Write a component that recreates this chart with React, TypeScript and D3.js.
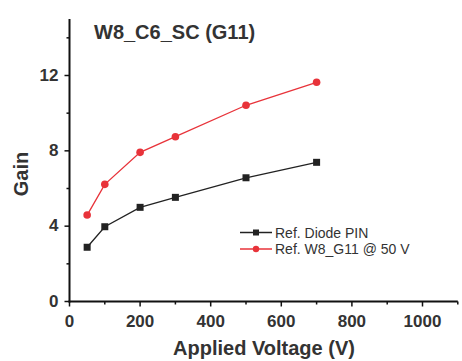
import React from "react";
import * as d3 from "d3";

const voltages = [50, 100, 200, 300, 500, 700];
const diodePIN = [2.88, 3.97, 5.0, 5.53, 6.57, 7.39];
const w8G11 = [4.59, 6.22, 7.92, 8.75, 10.42, 11.64];
const xMajorTicks = [0, 200, 400, 600, 800, 1000];
const xMinorTicks = [100, 300, 500, 700, 900, 1100];
const yMajorTicks = [0, 4, 8, 12];
const yMinorTicks = [2, 6, 10, 14];
const seriesNames = ["Ref. Diode PIN", "Ref. W8_G11 @ 50 V"];
const title = "W8_C6_SC (G11)";

export default function App() {
  const W = 462, H = 361;
  const x = d3.scaleLinear().domain([0, 1000]).range([69.5, 422.5]);
  const y = d3.scaleLinear().domain([0, 15]).range([301.5, 19]);
  const line = d3.line<[number, number]>().x(d => x(d[0])).y(d => y(d[1]));
  const font = "'Liberation Sans', Arial, sans-serif";
  const blackPts: [number, number][] = voltages.map((v, i) => [v, diodePIN[i]]);
  const redPts: [number, number][] = voltages.map((v, i) => [v, w8G11[i]]);
  const black = "#222";
  const red = "#e8333a";
  const txt = "#333";
  return (
    <svg width={W} height={H} style={{ position: "absolute", left: 0, top: 0, background: "#fff" }}>
      {/* axes */}
      <line x1={x(0) - 1} x2={x(1100)} y1={y(0)} y2={y(0)} stroke="#111" strokeWidth={2} />
      <line x1={x(0)} x2={x(0)} y1={y(0) + 1} y2={y(15)} stroke="#111" strokeWidth={2} />
      {xMajorTicks.map(t => (
        <g key={"xm" + t}>
          <line x1={x(t)} x2={x(t)} y1={y(0)} y2={y(0) + 5} stroke="#111" strokeWidth={1.5} />
          <text x={x(t)} y={y(0) + 25} textAnchor="middle" fontFamily={font} fontWeight="bold" fontSize={17} fill={txt}>{t}</text>
        </g>
      ))}
      {xMinorTicks.map(t => (
        <line key={"xn" + t} x1={x(t)} x2={x(t)} y1={y(0)} y2={y(0) + 3} stroke="#111" strokeWidth={1.5} />
      ))}
      {yMajorTicks.map(t => (
        <g key={"ym" + t}>
          <line x1={x(0) - 5} x2={x(0)} y1={y(t)} y2={y(t)} stroke="#111" strokeWidth={1.5} />
          <text x={x(0) - 11} y={y(t) + 5} textAnchor="end" fontFamily={font} fontWeight="bold" fontSize={17} fill={txt}>{t}</text>
        </g>
      ))}
      {yMinorTicks.map(t => (
        <line key={"yn" + t} x1={x(0) - 3} x2={x(0)} y1={y(t)} y2={y(t)} stroke="#111" strokeWidth={1.5} />
      ))}
      <text x={264} y={355} textAnchor="middle" fontFamily={font} fontWeight="bold" fontSize={20} fill={txt}>Applied Voltage (V)</text>
      <text transform="translate(28,174) rotate(-90)" textAnchor="middle" fontFamily={font} fontWeight="bold" fontSize={20} fill={txt}>Gain</text>
      <text x={94} y={39} fontFamily={font} fontWeight="bold" fontSize={20} fill={txt}>{title}</text>
      {/* series */}
      <path d={line(blackPts) || ""} fill="none" stroke={black} strokeWidth={1.3} />
      {blackPts.map((p, i) => (
        <rect key={"b" + i} x={x(p[0]) - 3.5} y={y(p[1]) - 3.5} width={7} height={7} fill={black} />
      ))}
      <path d={line(redPts) || ""} fill="none" stroke={red} strokeWidth={1.3} />
      {redPts.map((p, i) => (
        <circle key={"r" + i} cx={x(p[0])} cy={y(p[1])} r={3.8} fill={red} />
      ))}
      {/* legend */}
      <g>
        <line x1={240} x2={272} y1={232.5} y2={232.5} stroke={black} strokeWidth={1.5} />
        <rect x={253} y={229.5} width={6} height={6} fill={black} />
        <text x={275} y={237.5} fontFamily={font} fontSize={14} fill={txt}>{seriesNames[0]}</text>
        <line x1={240} x2={272} y1={249} y2={249} stroke={red} strokeWidth={1.5} />
        <circle cx={256} cy={249} r={3.2} fill={red} />
        <text x={275} y={254} fontFamily={font} fontSize={14} fill={txt}>{seriesNames[1]}</text>
      </g>
    </svg>
  );
}
